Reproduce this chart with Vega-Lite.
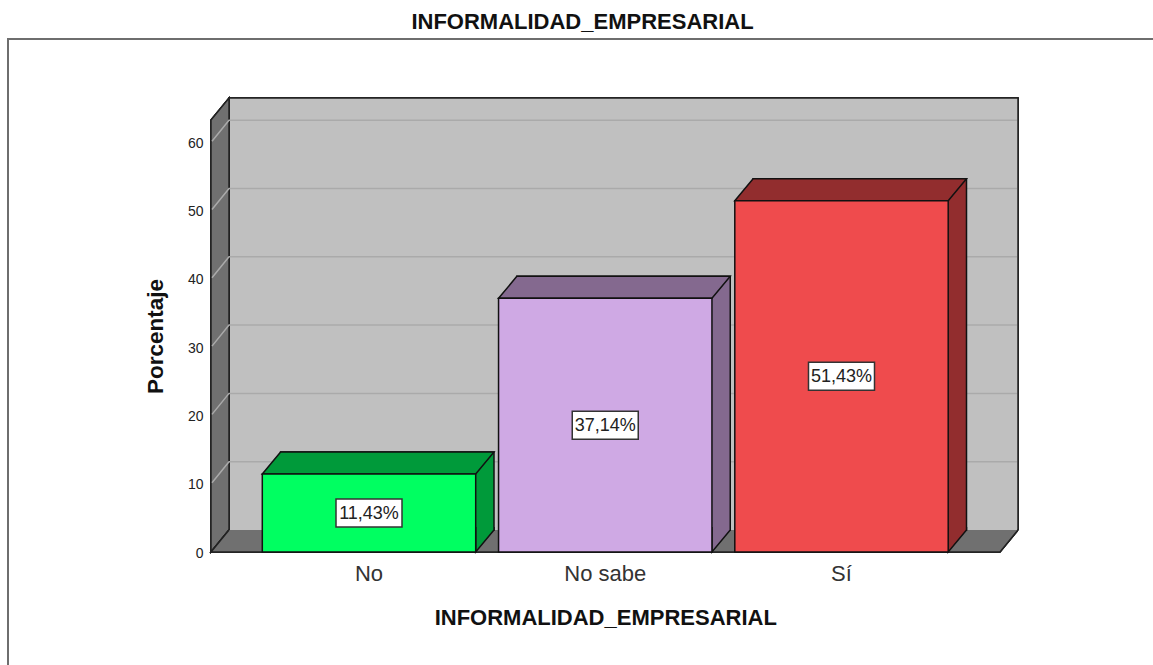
{
"$schema":"https://vega.github.io/schema/vega-lite/v6.json",
"width":789,"height":432,
"autosize":{"type":"none"},
"padding":{"left":211,"top":120,"right":153,"bottom":113},
"background":"white",
"config":{"view":{"stroke":null},"font":"Liberation Sans"},
"title":{"text":"INFORMALIDAD_EMPRESARIAL","font":"Liberation Sans","fontSize":22,"fontWeight":"bold","color":"#111","anchor":"middle","dx":-23,"offset":1},
"data":{"values":[
{"category":"No","porcentaje":11.43,"etiqueta":"11,43%"},
{"category":"No sabe","porcentaje":37.14,"etiqueta":"37,14%"},
{"category":"Sí","porcentaje":51.43,"etiqueta":"51,43%"}
]},
"transform":[{"calculate":"datum.porcentaje/2","as":"centro"}],
"encoding":{
"x":{"field":"category","type":"nominal","sort":["No","No sabe","Sí"],
"scale":{"domain":["No","No sabe","Sí"],"range":[39.875,748.625],"paddingInner":0.0967,"paddingOuter":0.04835},
"axis":{"title":"INFORMALIDAD_EMPRESARIAL","labelAngle":0,"domain":false,"ticks":false,"labelFontSize":22,"labelColor":"#333","labelFont":"Liberation Sans","labelPadding":11,"titleFont":"Liberation Sans","titleFontSize":22,"titleFontWeight":"bold","titleColor":"#111","titlePadding":23}},
"y":{"field":"porcentaje","type":"quantitative",
"scale":{"domain":[0,63.25],"nice":false},
"axis":{"title":"Porcentaje","values":[0,10,20,30,40,50,60],"grid":false,"domain":false,"ticks":false,"labelFontSize":14,"labelColor":"#222","labelFont":"Liberation Sans","labelPadding":8,"labelOffset":1,"titleFont":"Liberation Sans","titleFontSize":22.5,"titleFontWeight":"bold","titleColor":"#111","titlePadding":20}}
},
"layer":[
{"mark":{"type":"point","shape":"M-361 113L-361 -513L784 -513","size":4,"filled":false,"opacity":1,"stroke":"#6e6e6e","strokeWidth":2},
 "encoding":{"x":{"datum":"No","type":"nominal"},"y":{"datum":0,"type":"quantitative"}}},
{"mark":{"type":"point","shape":"M-140 -22L-140 -454L649 -454L649 -22","size":4,"filled":true,"opacity":1,"fill":"#c0c0c0","stroke":"#222","strokeWidth":1.5},
 "encoding":{"x":{"datum":"No","type":"nominal"},"y":{"datum":0,"type":"quantitative"}}},
{"mark":{"type":"point","shape":"M-158 -432L-140 -454L-140 -22L-158 0Z","size":4,"filled":true,"opacity":1,"fill":"#707070","stroke":"#222","strokeWidth":1.5},
 "encoding":{"x":{"datum":"No","type":"nominal"},"y":{"datum":0,"type":"quantitative"}}},
{"data":{"values":[{"linea":10},{"linea":20},{"linea":30},{"linea":40},{"linea":50},{"linea":60}]},
 "transform":[],
 "mark":{"type":"point","shape":"M-157 -1L-140 -22L648 -22","size":4,"filled":false,"opacity":1,"stroke":"#aaaaaa","strokeWidth":1.5},
 "encoding":{"x":{"datum":"No","type":"nominal"},"y":{"field":"linea","type":"quantitative"}}},
{"mark":{"type":"point","shape":"M649 -22L631 0L-158 0L-140 -22","size":4,"filled":true,"opacity":1,"fill":"#707070","stroke":"#222","strokeWidth":1.5},
 "encoding":{"x":{"datum":"No","type":"nominal"},"y":{"datum":0,"type":"quantitative"}}},
{"mark":{"type":"bar","xOffset":18.3,"yOffset":-22,"stroke":"#111","strokeWidth":1.5},
 "encoding":{"fill":{"field":"category","type":"nominal","legend":null,"scale":{"domain":["No","No sabe","Sí"],"range":["#009a3a","#84698f","#922d2e"]}}}},
{"mark":{"type":"point","shape":"M125 -25L125 -22L106.7 0L106.7 -25","size":4,"filled":true,"opacity":1,"stroke":"#111","strokeWidth":1.5},
 "encoding":{"y":{"datum":0,"type":"quantitative"},"fill":{"field":"category","type":"nominal","legend":null,"scale":{"domain":["No","No sabe","Sí"],"range":["#009a3a","#84698f","#922d2e"]}}}},
{"mark":{"type":"point","shape":"M-106.7 0L-88.4 -22L125 -22L106.7 0Z","size":4,"filled":true,"opacity":1,"stroke":"#111","strokeWidth":1.5},
 "encoding":{"fill":{"field":"category","type":"nominal","legend":null,"scale":{"domain":["No","No sabe","Sí"],"range":["#009a3a","#84698f","#922d2e"]}}}},
{"mark":{"type":"bar","stroke":"#111","strokeWidth":1.5},
 "encoding":{"fill":{"field":"category","type":"nominal","legend":null,"scale":{"domain":["No","No sabe","Sí"],"range":["#00ff61","#cfa9e4","#ef4b4d"]}}}},
{"mark":{"type":"point","shape":"M-33 -14L33 -14L33 14L-33 14Z","size":4,"filled":true,"opacity":1,"fill":"white","stroke":"#333","strokeWidth":1.5},
 "encoding":{"y":{"field":"centro","type":"quantitative"}}},
{"mark":{"type":"text","font":"Liberation Sans","fontSize":18,"color":"#222","baseline":"middle","align":"center","dy":1},
 "encoding":{"y":{"field":"centro","type":"quantitative"},"text":{"field":"etiqueta","type":"nominal"}}}
],
"resolve":{"scale":{"fill":"independent"}}
}
